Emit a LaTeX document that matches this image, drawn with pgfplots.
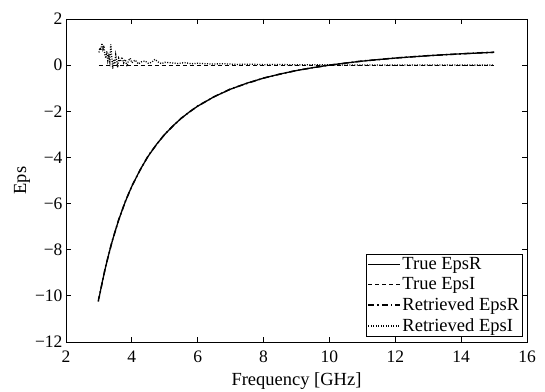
\documentclass[border=0pt]{standalone}
\usepackage{pgfplots}
\pgfplotsset{compat=1.18}
\usepackage{fontspec}
\setmainfont{Liberation Serif}

% Drude permittivity: exact and retrieved values
\pgfplotstableread{
f      er
3.00  -10.111
3.10  -9.406
3.20  -8.766
3.30  -8.183
3.40  -7.651
3.50  -7.163
3.60  -6.716
3.70  -6.305
3.80  -5.925
3.90  -5.574
4.00  -5.250
4.25  -4.536
4.50  -3.938
4.75  -3.432
5.00  -3.000
5.25  -2.628
5.50  -2.306
5.75  -2.025
6.00  -1.778
6.50  -1.367
7.00  -1.041
7.50  -0.778
8.00  -0.563
8.50  -0.384
9.00  -0.235
9.50  -0.108
10.00  0.000
10.50  0.093
11.00  0.174
11.50  0.244
12.00  0.306
12.50  0.360
13.00  0.408
13.50  0.451
14.00  0.490
14.50  0.524
15.00  0.556
}\trueR

\pgfplotstableread{
f      er
2.98  -10.25
3.00  -10.08
3.10  -9.43
3.20  -8.74
3.30  -8.20
3.40  -7.63
3.50  -7.18
3.60  -6.70
3.70  -6.32
3.80  -5.91
3.90  -5.58
4.00  -5.24
4.25  -4.55
4.50  -3.92
4.75  -3.44
5.00  -2.99
5.25  -2.64
5.50  -2.30
5.75  -2.03
6.00  -1.77
6.50  -1.37
7.00  -1.03
7.50  -0.79
8.00  -0.56
8.50  -0.39
9.00  -0.23
9.50  -0.11
10.00  0.00
10.50  0.09
11.00  0.18
11.50  0.24
12.00  0.31
12.50  0.36
13.00  0.41
13.50  0.45
14.00  0.49
14.50  0.53
15.00  0.56
}\retR

\pgfplotstableread{
f     ei
3.00  0.55
3.03  0.75
3.06  0.65
3.09  0.95
3.12  0.70
3.15  0.85
3.18  0.45
3.21  0.30
3.24  0.60
3.27  0.20
3.30  0.40
3.33  0.15
3.36  0.90
3.39  0.35
3.42 -0.15
3.45  0.25
3.48  0.05
3.51  0.45
3.54  0.20
3.57 -0.10
3.60  0.30
3.65  0.15
3.70  0.35
3.75  0.10
3.80  0.25
3.85 -0.05
3.90  0.20
3.95  0.30
4.00  0.10
4.10  0.22
4.20  0.05
4.30  0.15
4.40  0.18
4.50  0.08
4.60  0.12
4.70  0.25
4.80  0.14
4.90  0.06
5.00  0.12
5.20  0.10
5.40  0.07
5.60  0.11
5.80  0.06
6.00  0.08
6.40  0.05
6.80  0.06
7.20  0.03
7.60  0.04
8.00  0.02
8.50  0.03
9.00  0.01
9.50  0.02
10.00 0.01
11.00 0.01
12.00 0.00
13.00 0.01
14.00 0.00
15.00 0.00
}\retI

\begin{document}
\begin{tikzpicture}
\begin{axis}[
  scale only axis,
  width=461pt, height=323pt,
  xmin=2, xmax=16, ymin=-12, ymax=2,
  xtick={2,4,...,16},
  ytick={-12,-10,...,2},
  yticklabels={−12,−10,−8,−6,−4,−2,0,2},
  tick align=inside,
  major tick length=5pt,
  tick style={black, line width=0.8pt},
  axis line style={line width=0.9pt},
  /pgf/number format/assume math mode=true,
  tick label style={font=\fontsize{17.5}{17.5}\selectfont},
  xticklabel style={yshift=-5pt},
  label style={font=\fontsize{18.5}{18.5}\selectfont},
  xlabel={Frequency [GHz]},
  ylabel={Eps},
  xlabel style={at={(rel axis cs:0.5,0)}, anchor=center, yshift=-39pt},
  ylabel style={at={(rel axis cs:0,0.5)}, anchor=center, yshift=44pt},
  legend style={
    at={(rel axis cs:1,0)}, anchor=south east, xshift=-4pt, yshift=5pt,
    font=\fontsize{18.5}{20}\selectfont,
    draw=black, line width=0.8pt,
    inner sep=1.5pt, row sep=2.5pt,
    cells={anchor=west},
  },
  legend image code/.code={
    \draw[#1] (0cm,0cm) -- (1.1cm,0cm);
  },
  after end axis/.code={
    \coordinate (bl) at (rel axis cs:0,0);
    \coordinate (tr) at (rel axis cs:1,1);
  },
]
\addplot[black, line width=1.3pt] table[x=f, y=er] {\trueR};
\addlegendentry{True EpsR}
\addplot[black, line width=1.0pt, dash pattern=on 4pt off 3pt]
  coordinates {(3,0) (15,0)};
\addlegendentry{True EpsI}
\addplot[black, line width=1.5pt, dash pattern=on 6pt off 3pt on 1.5pt off 3pt]
  table[x=f, y=er] {\retR};
\addlegendentry{Retrieved EpsR}
\addplot[black, line width=1.3pt, dash pattern=on 1pt off 1.5pt]
  table[x=f, y=ei] {\retI};
\addlegendentry{Retrieved EpsI}
\end{axis}
% page margins around the plot area
\pgfresetboundingbox
\path[use as bounding box] (bl) ++(-66pt,-50pt) rectangle ([shift={(18pt,19pt)}]tr);
\end{tikzpicture}
\end{document}
